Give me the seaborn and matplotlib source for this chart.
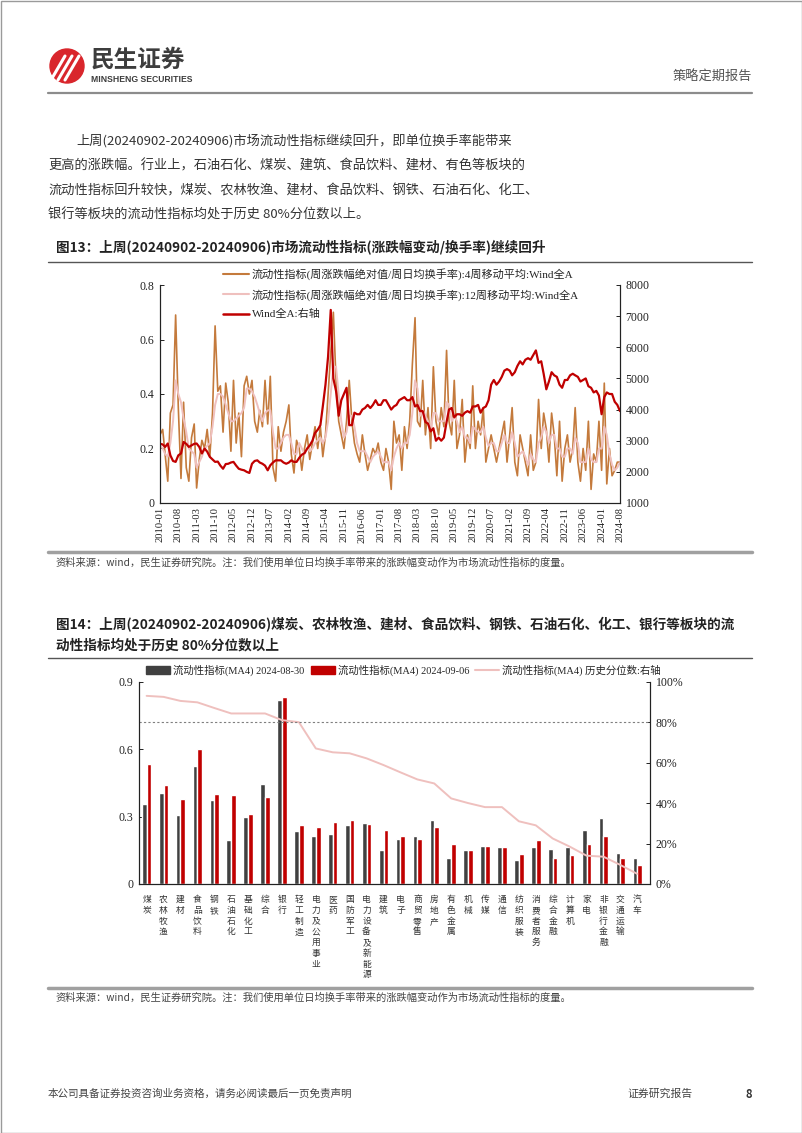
import numpy as np
import pandas as pd
import matplotlib
matplotlib.use('Agg')
import matplotlib.pyplot as plt
import seaborn as sns
from matplotlib.patches import Rectangle, Circle, Patch
from matplotlib.lines import Line2D

sns.set_style('white')
plt.rcParams['font.family'] = ['Liberation Serif', 'Noto Sans CJK SC']
plt.rcParams['axes.unicode_minus'] = False
CJK = ['Noto Sans CJK SC', 'DejaVu Sans']
SERIF = ['Liberation Serif', 'Noto Sans CJK SC']

# chart 1: monthly readings 2010-01 .. 2024-08
liq_4w = [
    0.25, 0.27, 0.18, 0.08, 0.33, 0.36, 0.69, 0.35, 0.09, 0.37, 0.13, 0.08,
    0.24, 0.29, 0.055, 0.16, 0.23, 0.20, 0.27, 0.17, 0.33, 0.65, 0.41, 0.43,
    0.26, 0.44, 0.37, 0.19, 0.45, 0.22, 0.33, 0.17, 0.43, 0.465, 0.40, 0.45,
    0.30, 0.26, 0.34, 0.28, 0.45, 0.29, 0.465, 0.13, 0.08, 0.28, 0.19, 0.26,
    0.30, 0.36, 0.18, 0.11, 0.23, 0.20, 0.12, 0.20, 0.25, 0.16, 0.22, 0.28,
    0.20, 0.28, 0.17, 0.25, 0.40, 0.55, 0.70, 0.45, 0.30, 0.25, 0.20, 0.30,
    0.45, 0.30, 0.22, 0.18, 0.15, 0.25, 0.18, 0.12, 0.16, 0.20, 0.18, 0.22,
    0.15, 0.12, 0.20, 0.15, 0.05, 0.30, 0.22, 0.25, 0.12, 0.28, 0.20, 0.30,
    0.51, 0.68, 0.30, 0.28, 0.45, 0.25, 0.35, 0.20, 0.50, 0.30, 0.25, 0.35,
    0.28, 0.56, 0.30, 0.25, 0.45, 0.20, 0.25, 0.38, 0.15, 0.25, 0.20, 0.43,
    0.20, 0.30, 0.25, 0.35, 0.15, 0.20, 0.25, 0.20, 0.15, 0.20, 0.25, 0.30,
    0.15, 0.25, 0.35, 0.15, 0.10, 0.25, 0.20, 0.15, 0.10, 0.25, 0.12, 0.15,
    0.38, 0.20, 0.33, 0.27, 0.15, 0.33, 0.25, 0.10, 0.30, 0.08, 0.20, 0.25,
    0.15, 0.20, 0.35, 0.15, 0.08, 0.20, 0.12, 0.30, 0.05, 0.18, 0.15, 0.30,
    0.12, 0.44, 0.07, 0.20, 0.10, 0.12, 0.15, 0.15,
]
liq_12w = [
    0.21, 0.20, 0.18, 0.17, 0.22, 0.30, 0.45, 0.40, 0.37, 0.31, 0.26, 0.20,
    0.19, 0.18, 0.13, 0.15, 0.17, 0.20, 0.21, 0.22, 0.28, 0.36, 0.40, 0.40,
    0.39, 0.36, 0.33, 0.30, 0.30, 0.31, 0.32, 0.33, 0.35, 0.42, 0.42, 0.41,
    0.39, 0.36, 0.33, 0.30, 0.33, 0.34, 0.34, 0.26, 0.20, 0.20, 0.22, 0.24,
    0.25, 0.25, 0.22, 0.18, 0.18, 0.22, 0.20, 0.18, 0.20, 0.19, 0.20, 0.22,
    0.23, 0.24, 0.22, 0.24, 0.30, 0.40, 0.50, 0.50, 0.40, 0.30, 0.24, 0.26,
    0.32, 0.32, 0.28, 0.22, 0.19, 0.19, 0.19, 0.17, 0.15, 0.17, 0.18, 0.19,
    0.17, 0.15, 0.15, 0.15, 0.12, 0.17, 0.20, 0.22, 0.20, 0.22, 0.22, 0.25,
    0.33, 0.45, 0.42, 0.32, 0.34, 0.32, 0.30, 0.27, 0.33, 0.33, 0.30, 0.30,
    0.30, 0.37, 0.36, 0.30, 0.32, 0.30, 0.26, 0.28, 0.24, 0.24, 0.22, 0.28,
    0.27, 0.26, 0.26, 0.28, 0.24, 0.21, 0.22, 0.22, 0.19, 0.19, 0.22, 0.25,
    0.22, 0.22, 0.26, 0.22, 0.17, 0.18, 0.19, 0.17, 0.14, 0.18, 0.16, 0.15,
    0.22, 0.24, 0.28, 0.26, 0.22, 0.25, 0.25, 0.20, 0.20, 0.17, 0.17, 0.20,
    0.20, 0.18, 0.24, 0.22, 0.15, 0.15, 0.15, 0.20, 0.16, 0.15, 0.15, 0.20,
    0.20, 0.28, 0.25, 0.18, 0.14, 0.12, 0.13, 0.15,
]
wind_a = [
    2900, 2880, 2800, 2910, 2530, 2350, 2320, 2530, 2590, 2960, 2900, 2800,
    2850, 2900, 2910, 2800, 2590, 2750, 2650, 2480, 2400, 2320, 2330, 2200,
    2100, 2250, 2260, 2300, 2320, 2200, 2100, 2070, 2050, 2000, 1965, 2260,
    2350, 2370, 2300, 2260, 2200, 2050, 2210, 2300, 2370, 2370, 2370, 2300,
    2260, 2300, 2370, 2320, 2320, 2450, 2550, 2600, 2750, 2850, 3000, 3250,
    3350, 3500, 4100, 4800, 5700, 7200, 5000, 4600, 3800, 4300, 4500, 4700,
    3500, 3500, 3900, 3850, 3850, 4000, 4050, 4150, 4050, 4150, 4300, 4150,
    4150, 4300, 4300, 4150, 4000, 4100, 4150, 4300, 4350, 4400, 4300, 4300,
    4400, 4100, 4150, 3950, 3950, 3600, 3550, 3300, 3400, 3000, 3100, 3000,
    3100, 3600, 4000, 4050, 3750, 3850, 3850, 3800, 3900, 3950, 3900, 4100,
    4100, 4150, 3900, 4050, 4100, 4300, 4800, 4950, 4800, 4900, 5050, 5250,
    5300, 5250, 5100, 5200, 5400, 5550, 5450, 5600, 5650, 5600, 5750, 5900,
    5500, 5550, 5150, 4650, 4900, 5200, 5100, 5050, 4800, 4700, 4950, 4950,
    5100, 5150, 5100, 5050, 4900, 4950, 5000, 4750, 4700, 4550, 4600, 4450,
    3850, 4400, 4550, 4500, 4500, 4250, 4150, 3950,
]
months = pd.date_range('2010-01-01', periods=len(wind_a), freq='MS')

# chart 2
industries = ['煤炭', '农林牧渔', '建材', '食品饮料', '钢铁', '石油石化', '基础化工', '综合',
              '银行', '轻工制造', '电力及公用事业', '医药', '国防军工', '电力设备及新能源',
              '建筑', '电子', '商贸零售', '房地产', '有色金属', '机械', '传媒', '通信',
              '纺织服装', '消费者服务', '综合金融', '计算机', '家电', '非银行金融',
              '交通运输', '汽车']
liq_0830 = [0.354, 0.405, 0.305, 0.525, 0.374, 0.197, 0.297, 0.446, 0.817, 0.237,
            0.215, 0.222, 0.262, 0.271, 0.150, 0.199, 0.213, 0.286, 0.116, 0.150,
            0.168, 0.165, 0.105, 0.165, 0.155, 0.165, 0.240, 0.295, 0.139, 0.115]
liq_0906 = [0.534, 0.440, 0.377, 0.600, 0.400, 0.396, 0.313, 0.388, 0.833, 0.261,
            0.255, 0.276, 0.286, 0.268, 0.239, 0.215, 0.200, 0.252, 0.179, 0.150,
            0.168, 0.163, 0.133, 0.197, 0.115, 0.127, 0.176, 0.213, 0.114, 0.085]
pct_hist = [0.93, 0.925, 0.905, 0.898, 0.87, 0.843, 0.843, 0.843, 0.81, 0.80,
            0.67, 0.651, 0.646, 0.621, 0.588, 0.552, 0.517, 0.497, 0.423, 0.40,
            0.38, 0.38, 0.31, 0.29, 0.225, 0.185, 0.14, 0.135, 0.094, 0.05]

ORANGE = '#C47A3C'
PINK = '#EFC0BE'
RED = '#C00000'
GRAY = '#404040'

W, H = 802, 1133
def fx(x):
    return x / W
def fy(y):
    return 1 - y / H

fig = plt.figure(figsize=(W / 100, H / 100), dpi=100)

# page decoration in pixel coords
pg = fig.add_axes([0, 0, 1, 1])
pg.set_xlim(0, W)
pg.set_ylim(H, 0)
pg.axis('off')
pg.add_patch(Rectangle((0.5, 0.5), W - 1, H - 1, fill=False, ec='#9a9a9a', lw=1))
pg.add_patch(Circle((67, 66), 17, color='#D9262C'))
for dx in (-7, 0, 7):
    pg.plot([58 + dx, 72 + dx], [80, 56], color='white', lw=2.2, solid_capstyle='round')
pg.text(91, 60, '民生证券', family=CJK, fontsize=17, fontweight='bold', color='#3d3d3d', va='center')
pg.text(91, 80, 'MINSHENG SECURITIES', family=['Liberation Sans'], fontsize=6.2,
        fontweight='bold', color='#3d3d3d', va='center')
pg.text(752, 77, '策略定期报告', family=CJK, fontsize=9.5, color='#555555', va='center', ha='right')
pg.plot([48, 752], [93, 93], color='#8c8c8c', lw=1.6)

para = [
    (76, 141, '上周(20240902-20240906)市场流动性指标继续回升，即单位换手率能带来'),
    (48, 166, '更高的涨跌幅。行业上，石油石化、煤炭、建筑、食品饮料、建材、有色等板块的'),
    (48, 191, '流动性指标回升较快，煤炭、农林牧渔、建材、食品饮料、钢铁、石油石化、化工、'),
    (48, 215, '银行等板块的流动性指标均处于历史 80%分位数以上。'),
]
for x, y, s in para:
    pg.text(x, y, s, family=CJK, fontsize=9.5, color='#333333', va='center')

pg.text(56, 248, '图13：上周(20240902-20240906)市场流动性指标(涨跌幅变动/换手率)继续回升',
        family=CJK, fontsize=9.8, fontweight='bold', color='#222222', va='center')
pg.plot([48, 752], [262, 262], color='#555555', lw=1.0)
pg.plot([48, 752], [552, 552], color='#a0a0a0', lw=2.5)
note = '资料来源：wind，民生证券研究院。注：我们使用单位日均换手率带来的涨跌幅变动作为市场流动性指标的度量。'
pg.text(56, 563, note, family=CJK, fontsize=7.4, color='#444444', va='center')

pg.text(56, 625, '图14：上周(20240902-20240906)煤炭、农林牧渔、建材、食品饮料、钢铁、石油石化、化工、银行等板块的流',
        family=CJK, fontsize=9.8, fontweight='bold', color='#222222', va='center')
pg.text(56, 645, '动性指标均处于历史 80%分位数以上', family=CJK, fontsize=9.8,
        fontweight='bold', color='#222222', va='center')
pg.plot([48, 752], [658, 658], color='#555555', lw=1.0)
pg.plot([48, 752], [988, 988], color='#a0a0a0', lw=2.5)
pg.text(56, 998, note, family=CJK, fontsize=7.4, color='#444444', va='center')

pg.text(48, 1094, '本公司具备证券投资咨询业务资格，请务必阅读最后一页免责声明', family=CJK,
        fontsize=7.6, color='#444444', va='center')
pg.text(627, 1094, '证券研究报告', family=CJK, fontsize=7.8, color='#444444', va='center')
pg.text(745, 1094, '8', family=CJK, fontsize=8, fontweight='bold', color='#333333', va='center')

# ---------------- chart 1 ----------------
df1 = pd.DataFrame({'month': months, 'liq4': liq_4w, 'liq12': liq_12w, 'wind': wind_a})
ax1 = fig.add_axes([fx(160), fy(503), (620 - 160) / W, (503 - 285) / H])
sns.lineplot(data=df1, x='month', y='liq4', color=ORANGE, lw=1.2, ax=ax1)
sns.lineplot(data=df1, x='month', y='liq12', color=PINK, lw=1.4, ax=ax1)
ax1r = ax1.twinx()
sns.lineplot(data=df1, x='month', y='wind', color=RED, lw=1.6, ax=ax1r)

ax1.set_xlim(months[0], months[-1])
ax1.set_ylim(0, 0.8)
ax1r.set_ylim(1000, 8000)
ax1.set_yticks([0, 0.2, 0.4, 0.6, 0.8])
ax1.set_yticklabels(['0', '0.2', '0.4', '0.6', '0.8'])
ax1r.set_yticks(range(1000, 8001, 1000))
ax1.set_xticks(months[::7])
ax1.set_xticklabels([m.strftime('%Y-%m') for m in months[::7]], rotation=90)
for a in (ax1, ax1r):
    a.set_xlabel('')
    a.set_ylabel('')
    a.spines['top'].set_visible(False)
    for s in ('left', 'right', 'bottom'):
        a.spines[s].set_color('#222222')
        a.spines[s].set_linewidth(0.8)
    a.tick_params(direction='in', length=3, width=0.7, labelsize=8.5, colors='#222222', pad=4)
ax1.tick_params(axis='x', labelsize=7.6, pad=3)

h1 = [Line2D([], [], color=ORANGE, lw=1.5), Line2D([], [], color=PINK, lw=1.5),
      Line2D([], [], color=RED, lw=1.8)]
l1 = ['流动性指标(周涨跌幅绝对值/周日均换手率):4周移动平均:Wind全A',
      '流动性指标(周涨跌幅绝对值/周日均换手率):12周移动平均:Wind全A',
      'Wind全A:右轴']
fig.legend(h1, l1, loc='upper left', bbox_to_anchor=(fx(223), fy(268)), frameon=False,
           prop={'family': SERIF, 'size': 8}, handlelength=2.3, handletextpad=0.3,
           labelspacing=0.78, borderpad=0, borderaxespad=0)

# ---------------- chart 2 ----------------
df2 = pd.DataFrame({
    'industry': industries * 2,
    'value': liq_0830 + liq_0906,
    'series': ['2024-08-30'] * len(industries) + ['2024-09-06'] * len(industries),
})
ax2 = fig.add_axes([fx(139), fy(884), (650 - 139) / W, (884 - 681.7) / H])
sns.barplot(data=df2, x='industry', y='value', hue='series', palette=[GRAY, RED],
            width=0.56, saturation=1, legend=False, ax=ax2)
ax2r = ax2.twinx()
sns.lineplot(x=np.arange(len(industries)), y=pct_hist, color=PINK, lw=1.4, ax=ax2r)
ax2r.axhline(0.8, color='#7f7f7f', lw=0.8, ls=(0, (2, 2)))
ax2.set_ylim(0, 0.9)
ax2r.set_ylim(0, 1)
ax2.set_yticks([0, 0.3, 0.6, 0.9])
ax2.set_yticklabels(['0', '0.3', '0.6', '0.9'])
ax2r.set_yticks([0, 0.2, 0.4, 0.6, 0.8, 1.0])
ax2r.set_yticklabels(['0%', '20%', '40%', '60%', '80%', '100%'])
for a in (ax2, ax2r):
    a.set_xlabel('')
    a.set_ylabel('')
    a.spines['top'].set_visible(False)
    for s in ('left', 'right', 'bottom'):
        a.spines[s].set_color('#222222')
        a.spines[s].set_linewidth(0.8)
    a.tick_params(direction='in', length=3, width=0.7, labelsize=8.5, colors='#222222', pad=4)
ax2.set_xticks(range(len(industries)))
ax2.set_xticklabels(['\n'.join(n) for n in industries], family=CJK, fontsize=6.3,
                    linespacing=1.25, va='top', color='#333333')
ax2.set_xticks(np.arange(0.5, len(industries), 1), minor=True)
ax2.tick_params(axis='x', which='major', length=0, pad=8)
ax2.tick_params(axis='x', which='minor', direction='in', length=3, width=0.7, color='#222222')
ax2.set_xlim(-0.45, 29.75)

h2 = [Patch(color=GRAY), Patch(color=RED), Line2D([], [], color=PINK, lw=1.5)]
l2 = ['流动性指标(MA4) 2024-08-30', '流动性指标(MA4) 2024-09-06', '流动性指标(MA4) 历史分位数:右轴']
fig.legend(h2, l2, loc='center left', bbox_to_anchor=(fx(146), fy(670)), frameon=False, ncol=3,
           prop={'family': SERIF, 'size': 7.5}, handlelength=2.3, handleheight=0.8,
           handletextpad=0.3, columnspacing=0.6, borderpad=0, borderaxespad=0)

fig.savefig('out.png', dpi=100)
